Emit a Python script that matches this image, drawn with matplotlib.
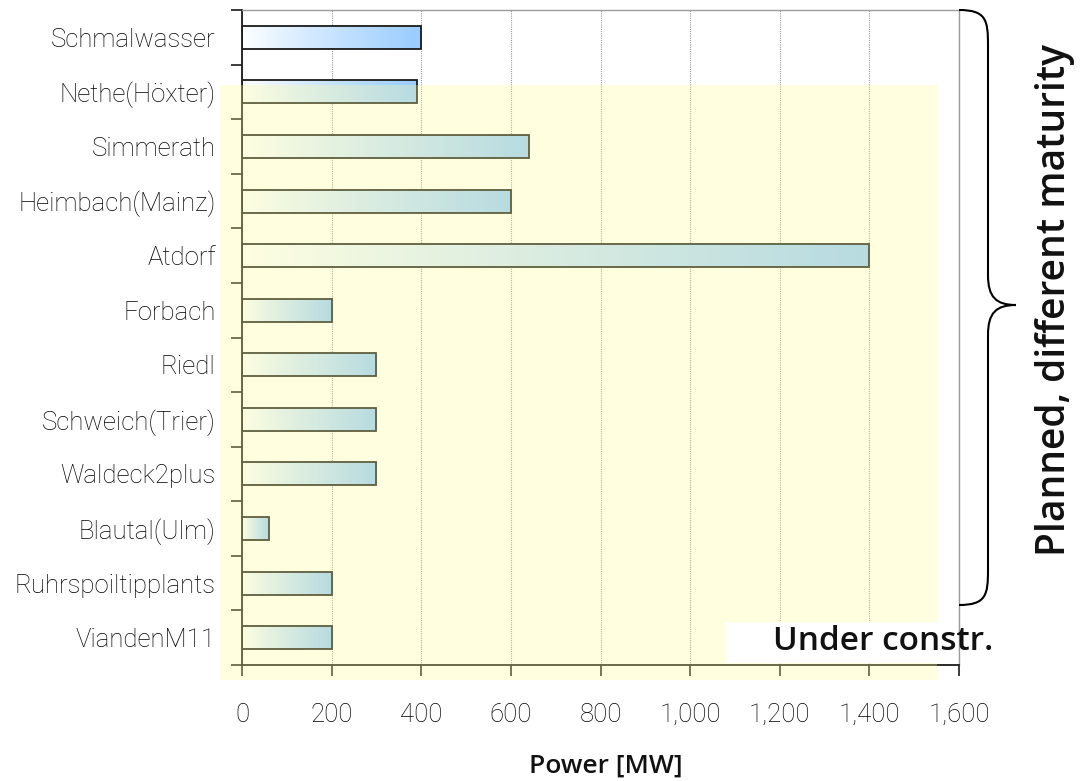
import numpy as np
import matplotlib
matplotlib.use("Agg")
import matplotlib.pyplot as plt
import matplotlib.transforms as mtransforms
from matplotlib.patches import Rectangle, PathPatch
from matplotlib.path import Path
from matplotlib.ticker import FuncFormatter, FixedLocator

plants = ["Schmalwasser", "Nethe(Höxter)", "Simmerath", "Heimbach(Mainz)", "Atdorf",
          "Forbach", "Riedl", "Schweich(Trier)", "Waldeck2plus", "Blautal(Ulm)",
          "Ruhrspoiltipplants", "ViandenM11"]
power_mw = [400, 390, 640, 600, 1400, 200, 300, 300, 300, 60, 200, 200]
x_ticks = [0, 200, 400, 600, 800, 1000, 1200, 1400, 1600]

W, H = 1086, 781
fig = plt.figure(figsize=(W / 100, H / 100), dpi=100)
plt.rcParams["font.family"] = ["Roboto", "DejaVu Sans"]
BOLD_FONT = ["Open Sans", "DejaVu Sans"]

# pixel coordinates measured from the top-left corner of the figure
px = mtransforms.Affine2D().scale(1 / W, -1 / H).translate(0, 1) + fig.transFigure

ax_l, ax_r, ax_t, ax_b = 242, 959, 10, 665
ax = fig.add_axes([ax_l / W, 1 - ax_b / H, (ax_r - ax_l) / W, (ax_b - ax_t) / H])
ax.set_facecolor("none")

n = len(plants)
ypos = np.arange(n)
bar_h = 0.42

# horizontal white-to-blue gradient inside each bar
grad = np.linspace(0, 1, 256) ** 0.9
white = np.array([1.0, 1.0, 1.0])
blue = np.array([0.60, 0.80, 1.0])
img = (white[None, :] * (1 - grad[:, None]) + blue[None, :] * grad[:, None])[None, :, :]

for y, v in zip(ypos, power_mw):
    rect = Rectangle((0, y - bar_h / 2), v, bar_h, facecolor="none",
                     edgecolor="#1a1a1a", lw=1.3, zorder=3)
    ax.add_patch(rect)
    im = ax.imshow(img, extent=[0, v, y + bar_h / 2, y - bar_h / 2],
                   aspect="auto", interpolation="bilinear", zorder=2)
    im.set_clip_path(rect)

ax.set_xlim(0, 1600)
ax.set_ylim(n - 0.5, -0.5)

ax.xaxis.set_major_locator(FixedLocator(x_ticks))
ax.xaxis.set_major_formatter(FuncFormatter(lambda v, p: f"{int(v):,}"))
ax.grid(axis="x", color="#9a9a9a", linestyle=(0, (1, 1)), lw=0.8, zorder=1)
ax.set_axisbelow(True)

ax.set_yticks(ypos)
ax.set_yticklabels(plants)
ax.set_yticks(np.arange(n + 1) - 0.5, minor=True)
ax.tick_params(axis="y", which="major", length=0, pad=19, labelsize=18.5, labelcolor="#000000")
ax.tick_params(axis="y", which="minor", length=8, width=1.2, color="#1a1a1a", direction="out")
ax.tick_params(axis="x", which="major", length=8, width=1.2, color="#1a1a1a", direction="out",
               pad=19, labelsize=18.5, labelcolor="#000000")
for lab in ax.get_xticklabels() + ax.get_yticklabels():
    lab.set_fontweight("light")

for side in ("top", "right"):
    ax.spines[side].set_color("#9a9a9a")
    ax.spines[side].set_linewidth(1.0)
for side in ("left", "bottom"):
    ax.spines[side].set_color("#1a1a1a")
    ax.spines[side].set_linewidth(1.3)

ax.set_xlabel("Power [MW]", fontsize=19, fontweight="semibold", labelpad=15,
              color="#111111", family=BOLD_FONT)
ax.xaxis.set_label_coords(0.508, -0.135)

# translucent yellow band over the planned plants
fig.add_artist(Rectangle((220, 85), 717, 595, transform=px, facecolor=(1, 1, 0.6),
                         alpha=0.3, edgecolor="none", zorder=5))

# label box for the plant under construction
fig.add_artist(Rectangle((725, 622), 212, 41, transform=px, facecolor="white",
                         edgecolor="none", zorder=6))
fig.text(883 / W, 1 - 642 / H, "Under constr.", ha="center", va="center",
         fontsize=24, fontweight="semibold", color="#111111", zorder=7, family=BOLD_FONT)

# curly brace on the right
top, bot, mid = 10, 605, 305
x0, x1, xt = 959, 988, 1016
verts = [(x0, top), (x1 - 2, top), (x1, top + 10), (x1, top + 35),
         (x1, mid - 30),
         (x1, mid - 8), (x1 + 8, mid), (xt, mid),
         (x1 + 8, mid), (x1, mid + 8), (x1, mid + 30),
         (x1, bot - 35),
         (x1, bot - 10), (x1 - 2, bot), (x0, bot)]
codes = [Path.MOVETO, Path.CURVE4, Path.CURVE4, Path.CURVE4,
         Path.LINETO,
         Path.CURVE4, Path.CURVE4, Path.CURVE4,
         Path.CURVE4, Path.CURVE4, Path.CURVE4,
         Path.LINETO,
         Path.CURVE4, Path.CURVE4, Path.CURVE4]
fig.add_artist(PathPatch(Path(verts, codes), transform=px, facecolor="none",
                         edgecolor="black", lw=1.5, zorder=7))

fig.text(1055 / W, 1 - 300 / H, "Planned, different maturity", rotation=90,
         ha="center", va="center", fontsize=28, fontweight="semibold", color="#111111",
         family=BOLD_FONT)

fig.savefig("out.png", dpi=100)
